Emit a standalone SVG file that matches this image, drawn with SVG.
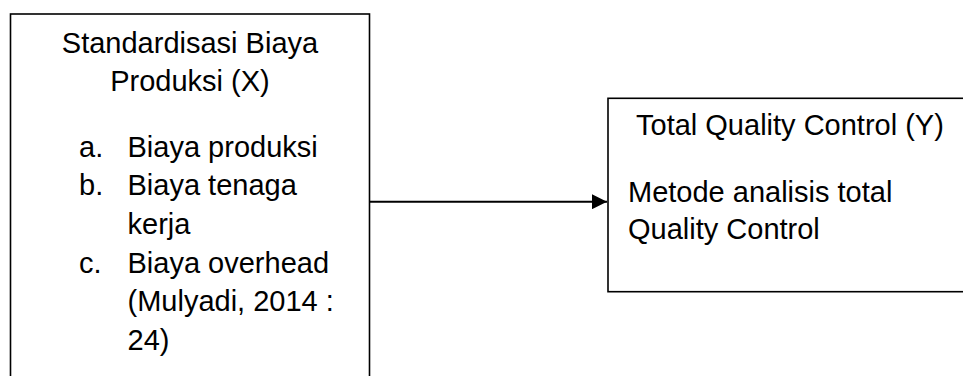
<svg xmlns="http://www.w3.org/2000/svg" width="963" height="376" viewBox="0 0 963 376">
<style>
.box{fill:#fff;stroke:#000;stroke-width:1.6}
.t{font-family:"Liberation Sans",Arial,sans-serif;font-size:29px;fill:#000}
.c{text-anchor:middle}
.edge{stroke:#000;stroke-width:2;fill:none}
</style>
<defs>
<marker id="arr" markerWidth="15" markerHeight="15" refX="15" refY="7.5" orient="auto" markerUnits="userSpaceOnUse">
<path d="M0,0 L15,7.5 L0,15 Z" fill="#000"/>
</marker>
</defs>
<rect width="963" height="376" fill="#fff"/>
<g id="node-x">
<rect class="box" x="10.5" y="14" width="359" height="380"/>
<text class="t c" x="190" y="53">Standardisasi Biaya</text>
<text class="t c" x="190" y="90.5">Produksi (X)</text>
<text class="t" x="79" y="156.5">a.</text>
<text class="t" x="127.5" y="156.5">Biaya produksi</text>
<text class="t" x="79" y="195">b.</text>
<text class="t" x="127.5" y="195">Biaya tenaga</text>
<text class="t" x="127.5" y="233.5">kerja</text>
<text class="t" x="79" y="272.5">c.</text>
<text class="t" x="127.5" y="272.5">Biaya overhead</text>
<text class="t" x="127.5" y="311">(Mulyadi, 2014 :</text>
<text class="t" x="127.5" y="350">24)</text>
</g>
<g id="node-y">
<rect class="box" x="608" y="98.3" width="370" height="193.4"/>
<text class="t" x="636" y="135">Total Quality Control (Y)</text>
<text class="t" x="628" y="201.5">Metode analisis total</text>
<text class="t" x="628" y="238.5">Quality Control</text>
</g>
<g id="connectors">
<line class="edge" x1="370" y1="201.7" x2="607" y2="201.7" marker-end="url(#arr)"/>
</g>
</svg>
